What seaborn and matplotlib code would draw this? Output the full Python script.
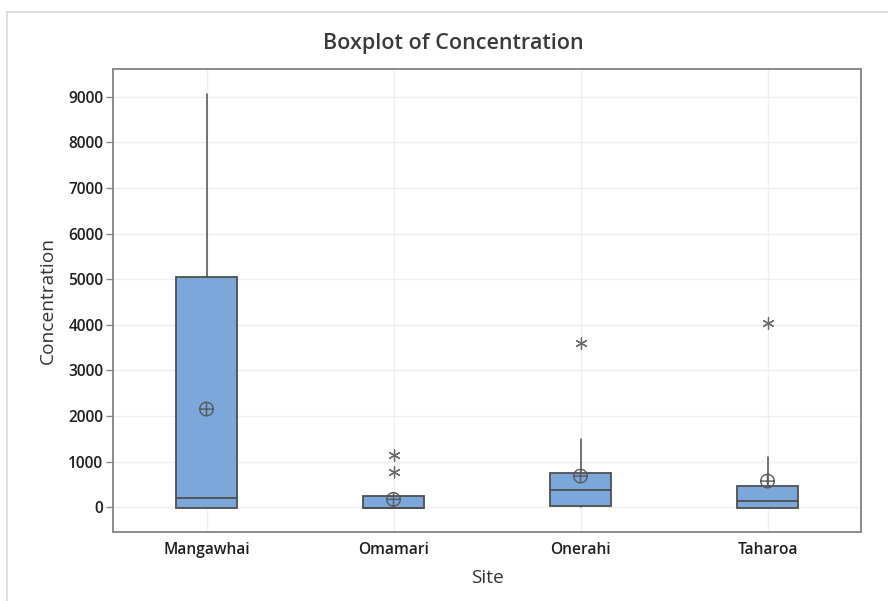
import matplotlib
matplotlib.use("Agg")
import matplotlib.pyplot as plt
from matplotlib.lines import Line2D
from matplotlib.path import Path
import pandas as pd
import seaborn as sns

# Summary statistics per site
sites = ["Mangawhai", "Omamari", "Onerahi", "Taharoa"]
q1 = [-10, -20, 35, -20]
medians = [205, -20, 380, 138]
q3 = [5045, 250, 760, 473]
whisker_lo = [-10, -20, 0, -20]
whisker_hi = [9054, 250, 1490, 1110]
means = [2155, 175, 686, 576]
outlier_site = ["Omamari", "Omamari", "Onerahi", "Taharoa"]
outlier_value = [1146, 780, 3608, 4046]
y_ticks = [0, 1000, 2000, 3000, 4000, 5000, 6000, 7000, 8000, 9000]

sns.set_theme(style="white")
plt.rcParams["font.family"] = ["Open Sans", "DejaVu Sans"]

W, H = 888, 601
fig = plt.figure(figsize=(W / 100, H / 100), dpi=100)
ax = fig.add_axes([113 / W, 1 - 532 / H, (861 - 113) / W, (532 - 69) / H])

# outer panel border
fig.add_artist(Line2D([7 / W, 1.0], [1 - 12 / H] * 2, transform=fig.transFigure,
                      color="#dadada", lw=1.2))
fig.add_artist(Line2D([7 / W] * 2, [0.0, 1 - 12 / H], transform=fig.transFigure,
                      color="#dadada", lw=1.2))

positions = list(range(len(sites)))
stats = [
    dict(label=s, q1=a, med=m, q3=b, whislo=lo, whishi=hi, mean=mu, fliers=[])
    for s, a, m, b, lo, hi, mu in zip(sites, q1, medians, q3, whisker_lo, whisker_hi, means)
]

edge = "#4f4f4f"
ax.bxp(stats, positions=positions, widths=0.33, patch_artist=True,
       showcaps=False, showfliers=False, showmeans=False,
       boxprops=dict(facecolor="#7ba7db", edgecolor=edge, linewidth=1.3),
       medianprops=dict(color=edge, linewidth=1.3),
       whiskerprops=dict(color=edge, linewidth=1.1),
       zorder=3)

# mean symbol: circle with cross
circ_cross = Path.make_compound_path(
    Path.unit_circle(),
    Path([[-1, 0], [1, 0]], [Path.MOVETO, Path.LINETO]),
    Path([[0, -1], [0, 1]], [Path.MOVETO, Path.LINETO]),
)
mean_df = pd.DataFrame({"pos": positions, "Concentration": means})
sns.scatterplot(data=mean_df, x="pos", y="Concentration", ax=ax, marker=circ_cross,
                s=95, facecolor="none", edgecolor="#5a5a5a", linewidth=1.0,
                color="#5a5a5a", zorder=5, legend=False)

out_df = pd.DataFrame({"pos": [sites.index(s) for s in outlier_site],
                       "Concentration": outlier_value})
sns.scatterplot(data=out_df, x="pos", y="Concentration", ax=ax, marker=(6, 2, 0),
                s=68, color="#6a6a6a", linewidth=0.9, zorder=5, legend=False)

ax.set_xlim(-0.5, 3.5)
ax.set_ylim(-540, 9608)
ax.set_xticks(positions)
ax.set_xticklabels(sites)
ax.set_yticks(y_ticks)
ax.set_yticklabels([str(t) for t in y_ticks])

ax.grid(True, color="#efefef", linewidth=1.0, zorder=0)
ax.set_axisbelow(True)
for sp in ax.spines.values():
    sp.set_color("#8a8a8a")
    sp.set_linewidth(1.4)
    sp.set_visible(True)

ax.tick_params(axis="both", which="both", length=5, width=1.0, color="#8a8a8a",
               labelsize=11.2, labelcolor="#1e1e1e", pad=2, direction="out")
ax.tick_params(axis="x", length=0, pad=7)
ax.tick_params(axis="y", left=True)
for lab in ax.get_xticklabels() + ax.get_yticklabels():
    lab.set_fontweight("semibold")

ax.set_xlabel("Site", fontsize=13.8, color="#333333", labelpad=8)
ax.set_ylabel("Concentration", fontsize=13.8, color="#333333", labelpad=8)
fig.text(453 / W, 1 - 43 / H, "Boxplot of Concentration", ha="center", va="center",
         fontsize=15.5, fontweight="semibold", color="#3a3a3a")

fig.savefig("out.png", dpi=100, facecolor="white")
